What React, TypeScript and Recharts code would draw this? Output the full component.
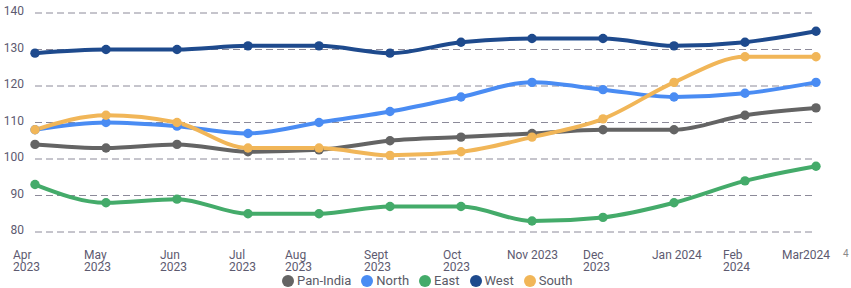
import { LineChart, Line, XAxis, YAxis, CartesianGrid } from 'recharts'

const months = ['Apr 2023', 'May 2023', 'Jun 2023', 'Jul 2023', 'Aug 2023', 'Sept 2023', 'Oct 2023', 'Nov 2023', 'Dec 2023', 'Jan 2024', 'Feb 2024', 'Mar 2024']
const tickLabels = [
  ['Apr', '2023'], ['May', '2023'], ['Jun', '2023'], ['Jul', '2023'], ['Aug', '2023'], ['Sept', '2023'],
  ['Oct', '2023'], ['Nov 2023'], ['Dec', '2023'], ['Jan 2024'], ['Feb', '2024'], ['Mar2024'],
]
const yTicks = [80, 90, 100, 110, 120, 130, 140]

const panIndia = [104, 103, 104, 102, 102.5, 105, 106, 107, 108, 108, 112, 114]
const north = [108, 110, 109, 107, 110, 113, 117, 121, 119, 117, 118, 121]
const east = [93, 88, 89, 85, 85, 87, 87, 83, 84, 88, 94, 98]
const west = [129, 130, 130, 131, 131, 129, 132, 133, 133, 131, 132, 135]
const south = [108, 112, 110, 103, 103, 101, 102, 106, 111, 121, 128, 128]

const SERIES = [
  { key: 'panIndia', name: 'Pan-India', color: '#646464', values: panIndia },
  { key: 'north', name: 'North', color: '#4a8cf3', values: north },
  { key: 'east', name: 'East', color: '#44ab6a', values: east },
  { key: 'west', name: 'West', color: '#1e4a8d', values: west },
  { key: 'south', name: 'South', color: '#f1b658', values: south },
]

// label start offsets relative to the point (the source lays them out a bit unevenly)
const TICK_DX = [-22, -22, -17, -19, -34, -26, -18, -25, -20, -22, -22, -34]

const data = months.map((m, i) => {
  const row: Record<string, string | number> = { month: m }
  SERIES.forEach((s) => { row[s.key] = s.values[i] })
  return row
})

const FONT = 'Roboto, "Noto Sans", sans-serif'
const LABEL = '#5d5a70'

function MonthTick({ x, y, payload }: any) {
  const i = payload.index
  const lines = tickLabels[i] || [payload.value]
  return (
    <g transform={`translate(${x + TICK_DX[i]},${y})`}>
      {lines.map((l, j) => (
        <text key={j} x={0} y={26.5 + j * 12.5} textAnchor="start" fontSize={12} fill={LABEL} fontFamily={FONT}>{l}</text>
      ))}
    </g>
  )
}

export default function App() {
  return (
    <div style={{ position: 'absolute', left: 0, top: 0, width: 851, height: 288, background: '#fff', fontFamily: FONT }}>
      <LineChart width={851} height={288} data={data} margin={{ top: 13, right: 35, bottom: 0, left: 0 }}>
        <CartesianGrid vertical={false} stroke="#8c8a99" strokeDasharray="7 4" />
        <XAxis dataKey="month" axisLine={false} tickLine={false} tickSize={0} tickMargin={0} height={56} interval={0} tick={<MonthTick />} />
        <YAxis
          domain={[80, 140]}
          ticks={yTicks}
          width={35}
          axisLine={false}
          tickLine={false}
          tickSize={0}
          tickMargin={11}
          tick={{ fontSize: 12, fill: LABEL, fontFamily: FONT, dy: -2 }}
        />
        {SERIES.map((s) => (
          <Line
            key={s.key}
            dataKey={s.key}
            name={s.name}
            type="monotone"
            stroke={s.color}
            strokeWidth={4}
            dot={{ r: 4.7, fill: s.color, stroke: s.color, strokeWidth: 0 }}
            activeDot={false}
            isAnimationActive={false}
          />
        ))}
        <text x={843} y={257} fontSize={10} fill="#8a8a8a" fontFamily={FONT}>4</text>
      </LineChart>
      <div style={{ position: 'absolute', left: 282, top: 275, display: 'flex', alignItems: 'center', fontSize: 13, color: '#5a5a66', lineHeight: '12px' }}>
        {SERIES.map((s) => (
          <div key={s.key} style={{ display: 'flex', alignItems: 'center', marginRight: 10 }}>
            <span style={{ width: 12, height: 12, borderRadius: 6, background: s.color, marginRight: 3 }} />
            <span>{s.name}</span>
          </div>
        ))}
      </div>
    </div>
  )
}
